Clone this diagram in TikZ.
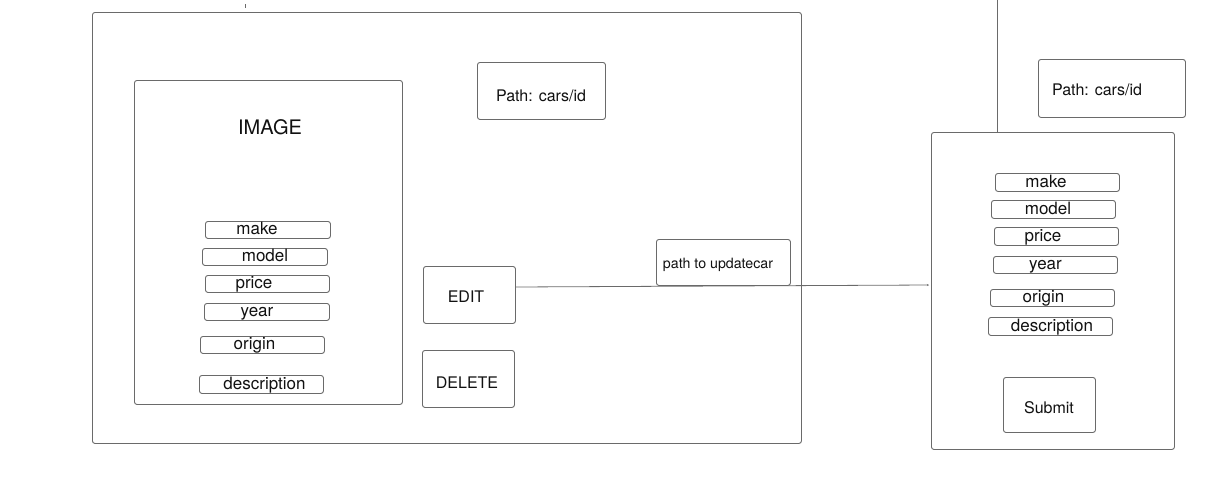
\documentclass[tikz,border=0pt]{standalone}
\usepackage{fontspec}
\setmainfont{TeX Gyre Heros}
\usetikzlibrary{arrows.meta,positioning,calc}
\definecolor{edge}{HTML}{6A6A6A}
\definecolor{ink}{HTML}{111111}
\tikzset{
  frame/.style={draw=edge, line width=0.9pt, rounded corners=2.5pt},
  boxat/.style 2 args={frame, anchor=north west, minimum width=#1, minimum height=#2, inner sep=0pt},
  lbl/.style={text=ink, inner sep=0pt, font=\fontsize{16}{18}\selectfont},
  fieldtxt/.style={text=ink, inner sep=0pt, anchor=base, font=\fontsize{17}{19}\selectfont},
  wire/.style={draw=edge, line width=0.8pt}
}
\newcommand{\fieldbox}[7]{% name, x1, y1, x2, y2, textx, text
  \node[boxat={(#4-#2)*1pt}{(#5-#3)*1pt}] (#1) at (#2,#3) {};
  \node[fieldtxt] (#1t) at (#6,#5-3.5) {#7};
}
\begin{document}
\begin{tikzpicture}[x=1pt,y=-1pt]
\useasboundingbox[fill=white] (0,0) rectangle (1212,482);
% left page
\node[boxat={709pt}{431pt}] (outer) at (92,12) {};
\draw[wire] (245,4) -- (245,8);
\node[boxat={268pt}{324pt}] (imgbox) at (134,80) {};
\node[lbl, font=\fontsize{20}{22}\selectfont] (imagetxt) at (270,127) {IMAGE};
\node[boxat={128pt}{57pt}] (path1) at (477,62) {};
\node[lbl] (path1t) at (541,96) {Path: cars/id};
\fieldbox{lmake}{205}{221}{330}{238}{257}{make}
\fieldbox{lmodel}{202}{248}{327}{265}{265}{model}
\fieldbox{lprice}{205}{275}{329}{292}{254}{price}
\fieldbox{lyear}{204}{303}{329}{320}{257}{year}
\fieldbox{lorigin}{200}{336}{324}{353}{254.5}{origin}
\fieldbox{ldesc}{199}{375}{323}{393}{264.5}{description}
\node[boxat={92pt}{57pt}] (edit) at (423,266) {};
\node[lbl] (editt) at (466,297) {EDIT};
\node[boxat={92pt}{57pt}] (delete) at (422,350) {};
\node[lbl] (deletet) at (467,383) {DELETE};
\node[boxat={134pt}{46pt}] (upd) at (656,239) {};
\node[lbl, font=\fontsize{14.2}{16}\selectfont] (updt) at (718,265) {path to updatecar};
% right page
\node[boxat={243pt}{317pt}] (rbox) at (931,132) {};
\coordinate (topline) at (997,0);
\draw[wire] (topline) -- (topline |- rbox.north);
\node[boxat={147pt}{58pt}] (path2) at (1038,59) {};
\node[lbl] (path2t) at (1097,90) {Path: cars/id};
\fieldbox{rmake}{995}{173}{1119}{191}{1046}{make}
\fieldbox{rmodel}{991}{200}{1115}{218}{1048}{model}
\fieldbox{rprice}{994}{227}{1118}{245}{1043}{price}
\fieldbox{ryear}{993}{256}{1117}{273}{1045.5}{year}
\fieldbox{rorigin}{990}{289}{1114}{306}{1043.5}{origin}
\fieldbox{rdesc}{988}{317}{1112}{335}{1052}{description}
\node[boxat={92pt}{55pt}] (submit) at (1003,377) {};
\node[lbl] (submitt) at (1049,408) {Submit};
% connector
\draw[wire, -{Stealth[length=2pt,width=2pt]}] (edit.east |- 0,287) -- ([xshift=-2pt]rbox.west |- 0,285);
\end{tikzpicture}
\end{document}
